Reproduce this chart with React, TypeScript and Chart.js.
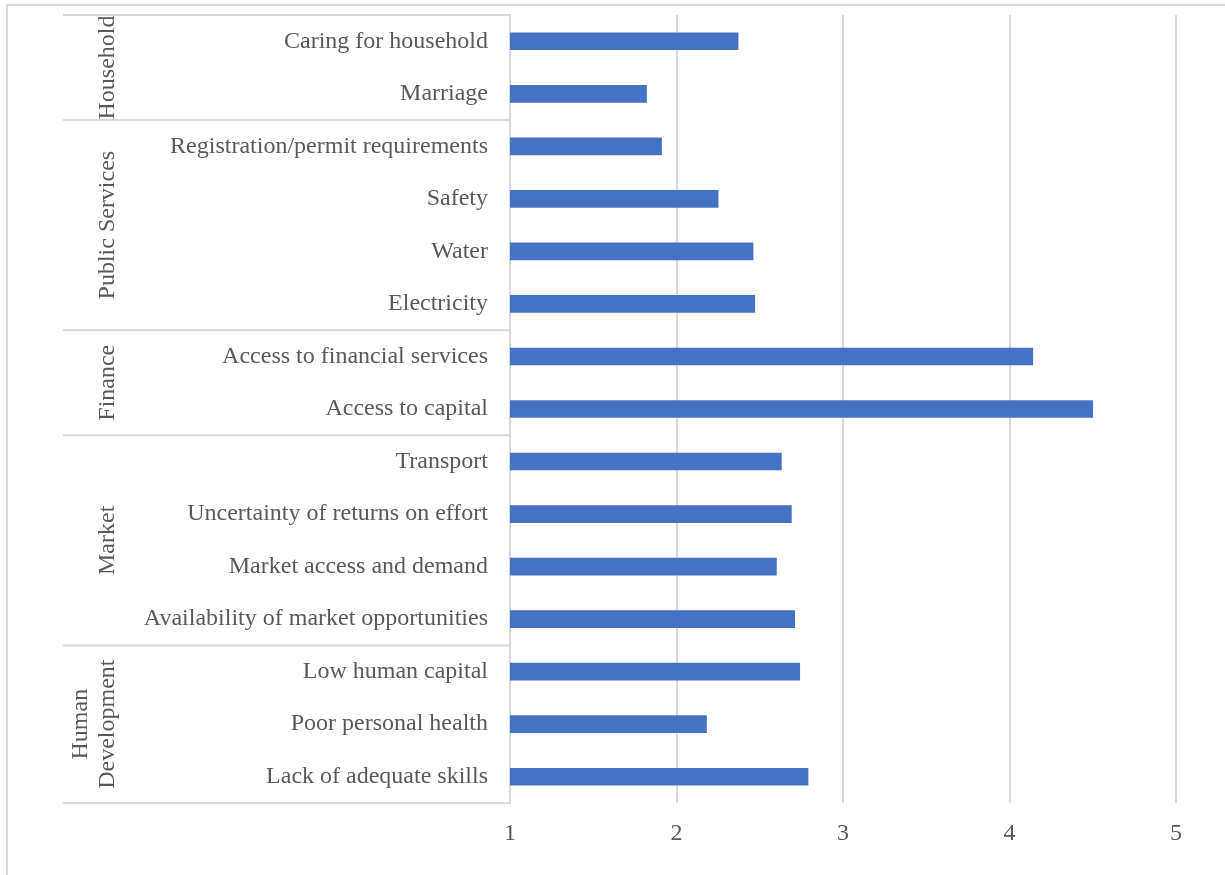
import React, { useEffect, useRef } from "react";
import { Chart, registerables } from "chart.js";

Chart.register(...registerables);

// Constraints, listed top to bottom
const categories = [
  "Caring for household",
  "Marriage",
  "Registration/permit requirements",
  "Safety",
  "Water",
  "Electricity",
  "Access to financial services",
  "Access to capital",
  "Transport",
  "Uncertainty of returns on effort",
  "Market access and demand",
  "Availability of market opportunities",
  "Low human capital",
  "Poor personal health",
  "Lack of adequate skills",
];

const scores = [2.37, 1.82, 1.91, 2.25, 2.46, 2.47, 4.14, 4.5, 2.63, 2.69, 2.6, 2.71, 2.74, 2.18, 2.79];

// Groups in the same order, with how many constraints each one holds
const groupNames = [["Household"], ["Public Services"], ["Finance"], ["Market"], ["Human", "Development"]];
const groupSizes = [2, 4, 2, 4, 3];

const xTicks = [1, 2, 3, 4, 5];

const FONT = "'Liberation Serif', 'Times New Roman', serif";
const TEXT = "#595959";
const LINE = "#d9d9d9";

const groupPlugin = {
  id: "groupPlugin",
  afterDraw(chart: any) {
    const { ctx, chartArea, scales } = chart;
    const y = scales.y;
    const left = 63;
    const right = chartArea.left;
    ctx.save();
    // outer frame
    ctx.strokeStyle = LINE;
    ctx.lineWidth = 2;
    ctx.beginPath();
    ctx.moveTo(7, chart.height);
    ctx.lineTo(7, 5);
    ctx.lineTo(chart.width, 5);
    ctx.stroke();

    // boundaries between groups
    const bounds: number[] = [chartArea.top];
    let idx = 0;
    groupSizes.forEach((n, g) => {
      idx += n;
      if (g < groupSizes.length - 1) {
        bounds.push((y.getPixelForValue(idx - 1) + y.getPixelForValue(idx)) / 2);
      } else {
        bounds.push(chartArea.bottom);
      }
    });
    ctx.lineWidth = 2;
    bounds.forEach((b) => {
      ctx.beginPath();
      ctx.moveTo(left, b);
      ctx.lineTo(right, b);
      ctx.stroke();
    });

    // group names, rotated
    ctx.fillStyle = TEXT;
    ctx.font = `24px ${FONT}`;
    ctx.textAlign = "center";
    ctx.textBaseline = "middle";
    groupNames.forEach((lines, g) => {
      const cy = (bounds[g] + bounds[g + 1]) / 2;
      const cx = lines.length > 1 ? 94 : 108;
      ctx.save();
      ctx.translate(cx, cy);
      ctx.rotate(-Math.PI / 2);
      lines.forEach((t, i) => {
        ctx.fillText(t, 0, (i - (lines.length - 1) / 2) * 27);
      });
      ctx.restore();
    });
    ctx.restore();
  },
};

export default function App() {
  const ref = useRef<HTMLCanvasElement>(null);

  useEffect(() => {
    if (!ref.current) return;
    const chart = new Chart(ref.current, {
      type: "bar",
      data: {
        labels: categories,
        datasets: [
          {
            data: scores,
            backgroundColor: "#4472C4",
            barThickness: 17,
          },
        ],
      },
      options: {
        indexAxis: "y",
        responsive: false,
        animation: false,
        devicePixelRatio: 1,
        layout: { padding: { left: 63, top: 15, right: 49, bottom: 0 } },
        plugins: { legend: { display: false }, tooltip: { enabled: false } },
        scales: {
          x: {
            min: 1,
            max: 5,
            afterBuildTicks: (s: any) => {
              s.ticks = xTicks.map((v) => ({ value: v }));
            },
            afterFit: (s: any) => {
              s.height = 72;
            },
            grid: { color: LINE, lineWidth: 2, drawTicks: false },
            border: { display: false },
            ticks: { color: TEXT, font: { family: FONT, size: 24 }, padding: 16 },
          },
          y: {
            afterFit: (s: any) => {
              s.width = 447;
              s.paddingTop = 0;
              s.paddingBottom = 0;
            },
            grid: { display: false, drawTicks: false },
            border: { display: true, color: LINE, width: 2 },
            ticks: { color: TEXT, font: { family: FONT, size: 24 }, padding: 22, autoSkip: false },
          },
        },
      },
      plugins: [groupPlugin],
    });
    return () => chart.destroy();
  }, []);

  return (
    <div style={{ position: "absolute", left: 0, top: 0, width: 1225, height: 875, background: "#fff" }}>
      <canvas ref={ref} width={1225} height={875} style={{ display: "block" }} />
    </div>
  );
}
